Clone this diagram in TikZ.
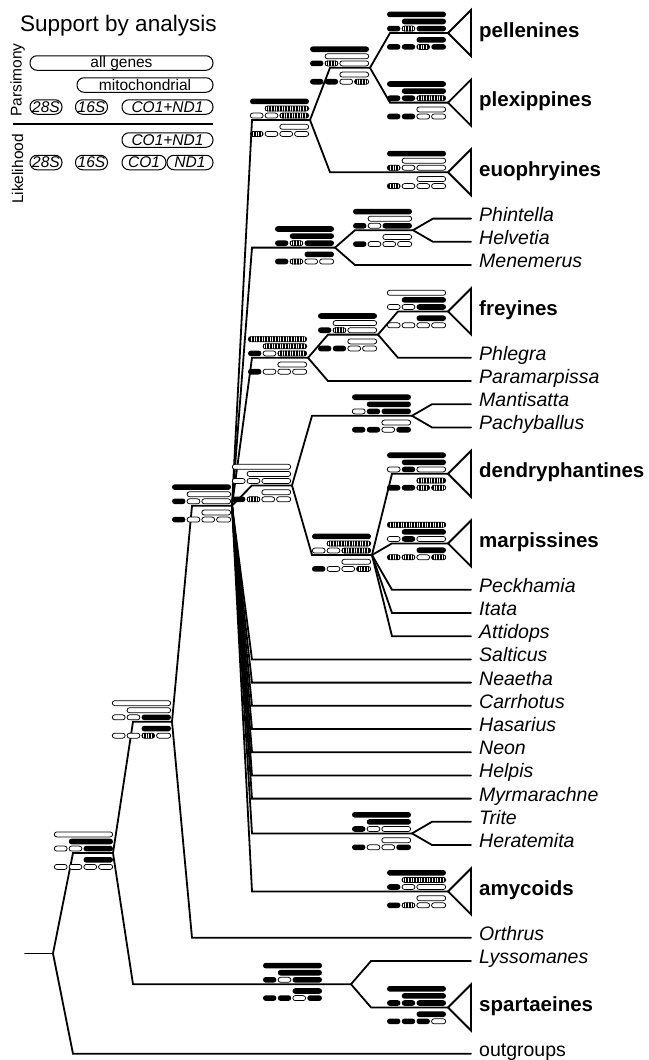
\documentclass[tikz,border=0pt]{standalone}
\usepackage{fontspec}
\setmainfont{Liberation Sans}
% support pill: #1 left x, #2 right x, #3 centre y, #4 state (b black, w white, h hatched, n none)
\newcommand\spill[4]{%
  \if#4b\fill[rounded corners=2.75pt] (#1,#3-2.8) rectangle (#2,#3+2.8);\fi
  \if#4w\filldraw[fill=white,line width=0.75pt,rounded corners=2.5pt] (#1+0.3,#3-2.5) rectangle (#2-0.3,#3+2.5);\fi
  \if#4h
    \begin{scope}
      \clip[rounded corners=2.75pt] (#1,#3-2.8) rectangle (#2,#3+2.8);
      \fill[white] (#1,#3-2.8) rectangle (#2,#3+2.8);
      \pgfmathsetmacro\hxa{#1+0.9}\pgfmathsetmacro\hxb{#1+2.5}%
      \foreach \hx in {\hxa,\hxb,...,#2}{\draw[line width=0.6pt] (\hx,#3-3) -- (\hx,#3+3);}
    \end{scope}
    \draw[line width=0.75pt,rounded corners=2.5pt] (#1+0.3,#3-2.5) rectangle (#2-0.3,#3+2.5);
  \fi}
\def\gP#1#2#3#4#5\relax{%
  \spill{\gA}{\gR}{\ya}{#1}%
  \spill{\gB}{\gR}{\yb}{#2}%
  \spill{\gA}{\gAr}{\yc}{#3}%
  \spill{\gB}{\gBr}{\yc}{#4}%
  \spill{\gC}{\gR}{\yc}{#5}}
\def\gL#1#2#3#4#5\relax{%
  \spill{\gC}{\gR}{\yd}{#1}%
  \spill{\gA}{\gAr}{\ye}{#2}%
  \spill{\gB}{\gBr}{\ye}{#3}%
  \spill{\gC}{\gCr}{\ye}{#4}%
  \spill{\gD}{\gR}{\ye}{#5}}
% glyph: #1 right x, #2 branch y, #3 parsimony states, #4 likelihood states
\newcommand\glyph[4]{%
  \pgfmathsetmacro\gR{#1}%
  \pgfmathsetmacro\gA{#1-59}\pgfmathsetmacro\gAr{#1-45.55}%
  \pgfmathsetmacro\gB{#1-44.25}\pgfmathsetmacro\gBr{#1-30.8}%
  \pgfmathsetmacro\gC{#1-29.5}\pgfmathsetmacro\gCr{#1-16.05}%
  \pgfmathsetmacro\gD{#1-14.75}%
  \pgfmathsetmacro\ya{#2-18.6}\pgfmathsetmacro\yb{#2-11.5}%
  \pgfmathsetmacro\yc{#2-4.4}\pgfmathsetmacro\yd{#2+6.8}%
  \pgfmathsetmacro\ye{#2+13.9}%
  \gP#3\relax\gL#4\relax}
% tip: #1 name, #2 parent node, #3 start x, #4 y, #5 label, #6 label style
\newcommand\tip[6]{%
  \coordinate (s#1) at (#3,#4);
  \coordinate (e#1) at (471,#4);
  \draw[br] (#2) -- (s#1) -- (e#1);
  \node[#6] (l#1) at (479,#4+2.5) {#5};}
% clade triangle: #1 name, #2 parent, #3 start x, #4 y, #5 label
\newcommand\clade[5]{%
  \coordinate (s#1) at (#3,#4);
  \coordinate (e#1) at (448,#4);
  \draw[br] (#2) -- (s#1) -- (e#1);
  \draw[tri] (e#1) -- ++(23,-23) -- ++(0,46) -- cycle;
  \node[bld] (l#1) at (479,#4+4) {#5};}
\begin{document}
\begin{tikzpicture}[x=1pt,y=-1pt,
  br/.style={line width=1.8pt,line cap=round,line join=miter},
  tri/.style={line width=1.9pt,line join=miter},
  itl/.style={anchor=base west,inner sep=0pt,font=\fontsize{19.5}{20}\selectfont\itshape},
  upr/.style={anchor=base west,inner sep=0pt,font=\fontsize{19.5}{20}\selectfont},
  bld/.style={anchor=base west,inner sep=0pt,font=\fontsize{20.5}{21}\selectfont\bfseries},
  lp/.style={draw,line width=1pt,rounded corners=7pt,minimum height=14.5pt,inner sep=0pt,font=\fontsize{15.5}{16}\selectfont},
  lpi/.style={lp,font=\fontsize{15.5}{16}\selectfont\itshape}]
\useasboundingbox (0,0) rectangle (648,1060);
\fill[white] (0,0) rectangle (648,1060);

% ---------- legend ----------
\node[anchor=base west,inner sep=0pt,font=\fontsize{22.5}{24}\selectfont] (title) at (20,31) {Support by analysis};
\node[rotate=90,inner sep=0pt,font=\fontsize{15.5}{16}\selectfont] (lpars) at (17.5,80) {Parsimony};
\node[rotate=90,inner sep=0pt,font=\fontsize{15.5}{16}\selectfont] (llik) at (17.5,169) {Likelihood};
\node[lp,minimum width=183pt] (lall) at (121.5,63) {all genes};
\node[lp,minimum width=136pt] (lmito) at (145,85) {mitochondrial};
\node[lpi,minimum width=32pt] (lp28) at (46,107) {28S};
\node[lpi,minimum width=32pt] (lp16) at (91.5,107) {16S};
\node[lpi,minimum width=91pt] (lpco) at (167.5,107) {CO1+ND1};
\draw[line width=2.8pt] (13,124) -- (213,124);
\node[lpi,minimum width=91pt] (llco) at (167.5,140) {CO1+ND1};
\node[lpi,minimum width=32pt] (ll28) at (46,162.5) {28S};
\node[lpi,minimum width=32pt] (ll16) at (91.5,162.5) {16S};
\node[lpi,minimum width=44pt] (llc1) at (144,162.5) {CO1};
\node[lpi,minimum width=46pt] (llnd) at (190,162.5) {ND1};

% ---------- internal nodes ----------
\coordinate (R) at (53,953.4);   \coordinate (Rstub) at (25,953.4);
\coordinate (N1) at (113,853);   \coordinate (N1s) at (73,853);
\coordinate (N2) at (172,721.75);\coordinate (N2s) at (133,721.75);
\coordinate (N21) at (351,984.2);\coordinate (N21s) at (133,984.2);
\coordinate (N3) at (232,505.7); \coordinate (N3s) at (192,505.7);
\coordinate (N4) at (292,485.4); \coordinate (N4s) at (252,485.4);
\coordinate (N5) at (310,120);   \coordinate (N5s) at (252,120);
\coordinate (N10) at (335,247.6);\coordinate (N10s) at (252,247.6);
\coordinate (N12) at (308,357.8);\coordinate (N12s) at (252,357.8);
\coordinate (N19) at (412,833.4);\coordinate (N19s) at (252,833.4);
\coordinate (N6) at (370,67.8);  \coordinate (N6s) at (330,67.8);
\coordinate (N11) at (413,230.2);\coordinate (N11s) at (355,230.2);
\coordinate (N13) at (378,334.6);\coordinate (N13s) at (328,334.6);
\coordinate (N15) at (412,415.8);\coordinate (N15s) at (312,415.8);
\coordinate (N18) at (372,555);  \coordinate (N18s) at (312,555);

% ---------- internal branches ----------
\draw[br] (Rstub) -- (R);
\draw[br] (R) -- (N1s) -- (N1);
\draw[br] (N1) -- (N2s) -- (N2);
\draw[br] (N1) -- (N21s) -- (N21);
\draw[br] (N2) -- (N3s) -- (N3);
\draw[br] (N3) -- (N4s) -- (N4);
\draw[br] (N3) -- (N5s) -- (N5);
\draw[br] (N3) -- (N10s) -- (N10);
\draw[br] (N3) -- (N12s) -- (N12);
\draw[br] (N3) -- (N19s) -- (N19);
\draw[br] (N5) -- (N6s) -- (N6);
\draw[br] (N10) -- (N11s) -- (N11);
\draw[br] (N12) -- (N13s) -- (N13);
\draw[br] (N4) -- (N15s) -- (N15);
\draw[br] (N4) -- (N18s) -- (N18);

% ---------- tips ----------
\clade{pell}{N6}{390}{33}{pellenines}
\clade{plex}{N6}{390}{102.6}{plexippines}
\clade{euo}{N5}{330}{172.2}{euophryines}
\tip{phin}{N11}{433}{218.6}{Phintella}{itl}
\tip{helv}{N11}{433}{241.8}{Helvetia}{itl}
\tip{mene}{N10}{355}{265}{Menemerus}{itl}
\clade{frey}{N13}{398}{311.4}{freyines}
\tip{phle}{N13}{398}{357.8}{Phlegra}{itl}
\tip{para}{N12}{328}{381}{Paramarpissa}{itl}
\tip{mant}{N15}{432}{404.2}{Mantisatta}{itl}
\tip{pach}{N15}{432}{427.4}{Pachyballus}{itl}
\clade{dend}{N18}{392}{473.8}{dendryphantines}
\clade{marp}{N18}{392}{543.4}{marpissines}
\tip{peck}{N18}{392}{589.8}{Peckhamia}{itl}
\tip{itat}{N18}{392}{613}{Itata}{itl}
\tip{atti}{N18}{392}{636.2}{Attidops}{itl}
\tip{salt}{N3}{252}{659.4}{Salticus}{itl}
\tip{neae}{N3}{252}{682.6}{Neaetha}{itl}
\tip{carr}{N3}{252}{705.8}{Carrhotus}{itl}
\tip{hasa}{N3}{252}{729}{Hasarius}{itl}
\tip{neon}{N3}{252}{752.2}{Neon}{itl}
\tip{help}{N3}{252}{775.4}{Helpis}{itl}
\tip{myrm}{N3}{252}{798.6}{Myrmarachne}{itl}
\tip{trit}{N19}{432}{821.8}{Trite}{itl}
\tip{hera}{N19}{432}{845}{Heratemita}{itl}
\clade{amyc}{N3}{252}{891.4}{amycoids}
\tip{orth}{N2}{192}{937.8}{Orthrus}{itl}
\tip{lyss}{N21}{371}{961}{Lyssomanes}{itl}
\clade{spar}{N21}{371}{1007.4}{spartaeines}
\tip{outg}{R}{73}{1053.8}{outgroups}{upr}

% ---------- support glyphs ----------
\glyph{113}{853}{wbwwb}{bwwww}
\glyph{171}{721.75}{wwwwb}{bwwhw}
\glyph{231}{505.7}{bwbww}{wbwww}
\glyph{291}{485.4}{wwwww}{wbhww}
\glyph{309}{120}{bhwwh}{whwww}
\glyph{369}{67.8}{bwbhw}{wbbwh}
\glyph{446}{33}{bbbhb}{bbbhb}
\glyph{446}{102.6}{bbbbh}{wbbww}
\glyph{446}{172.2}{bwhww}{whwww}
\glyph{334}{247.6}{bbbhb}{bbhww}
\glyph{412}{230.2}{bwbwb}{wbwww}
\glyph{307}{357.8}{hhbwh}{wbwww}
\glyph{377}{334.6}{bwbhw}{wbbww}
\glyph{446}{311.4}{wbwwb}{bwwww}
\glyph{411}{415.8}{bbwbb}{wbbwb}
\glyph{446}{473.8}{bbwbw}{hbbhh}
\glyph{446}{543.4}{hbwbw}{bhhwh}
\glyph{371}{555}{bhwwh}{wbwwh}
\glyph{411}{833.4}{bbbww}{wbwwb}
\glyph{446}{891.4}{bhbww}{wbhww}
\glyph{322}{984.2}{bbbwb}{bbbwb}
\glyph{446}{1007.4}{bbbbb}{bbbbw}
\end{tikzpicture}
\end{document}
